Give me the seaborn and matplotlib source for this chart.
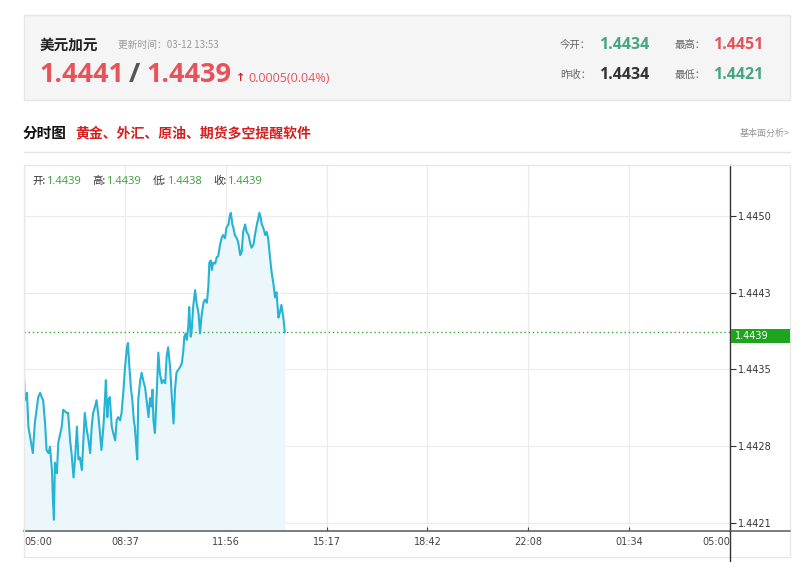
import numpy as np
import pandas as pd
import matplotlib
matplotlib.use("Agg")
import matplotlib.pyplot as plt
from matplotlib.patches import Rectangle
from matplotlib.lines import Line2D
import seaborn as sns

# ──────────────────────────────────────────────────────────────────────────────
# data (minutes since 05:00 open, USD/CAD price)
minutes = [0, 2, 6, 9, 16, 18, 22, 29, 33, 36, 39, 43, 46, 50, 53, 57, 59, 61, 63, 67,
           70, 77, 80, 87, 90, 94, 97, 101, 104, 108, 111, 114, 118, 121, 124, 128, 131, 135, 138, 141,
           145, 148, 152, 155, 158, 162, 165, 167, 170, 172, 175, 179, 182, 186, 189, 192, 196, 199, 203, 206,
           210, 212, 214, 218, 221, 224, 226, 228, 231, 233, 237, 240, 243, 247, 250, 254, 257, 260, 262, 264,
           267, 271, 274, 277, 281, 284, 288, 291, 294, 298, 301, 305, 308, 311, 315, 318, 322, 325, 327, 330,
           332, 335, 337, 340, 342, 345, 349, 352, 356, 359, 362, 366, 369, 373, 376, 378, 381, 383, 386, 390,
           393, 396, 400, 403, 406, 410, 413, 417, 420, 422, 425, 427, 430, 434, 437, 441, 444, 447, 451, 454,
           458, 461, 464, 468, 471, 475, 478, 480, 483, 485, 488, 492, 495, 498, 502, 505, 509, 512, 515, 519,
           522, 525, 529, 532]
prices = [1.44348, 1.44326, 1.44333, 1.44301, 1.44282, 1.44276, 1.44304, 1.44329, 1.44333, 1.44329,
          1.44326, 1.44304, 1.44279, 1.44276, 1.44282, 1.44260, 1.44232, 1.44213, 1.44267, 1.44257,
          1.44286, 1.44301, 1.44317, 1.44314, 1.44314, 1.44288, 1.44276, 1.44253, 1.44270, 1.44301,
          1.44270, 1.44272, 1.44260, 1.44288, 1.44314, 1.44298, 1.44290, 1.44276, 1.44301, 1.44314,
          1.44320, 1.44326, 1.44310, 1.44295, 1.44279, 1.44301, 1.44326, 1.44345, 1.44310, 1.44326,
          1.44329, 1.44301, 1.44295, 1.44288, 1.44307, 1.44310, 1.44307, 1.44314, 1.44336, 1.44357,
          1.44376, 1.44380, 1.44364, 1.44338, 1.44326, 1.44307, 1.44301, 1.44288, 1.44270, 1.44326,
          1.44345, 1.44352, 1.44345, 1.44338, 1.44326, 1.44310, 1.44328, 1.44320, 1.44336, 1.44307,
          1.44295, 1.44336, 1.44371, 1.44352, 1.44342, 1.44345, 1.44342, 1.44367, 1.44376, 1.44357,
          1.44333, 1.44304, 1.44336, 1.44352, 1.44355, 1.44357, 1.44361, 1.44373, 1.44386, 1.44389,
          1.44383, 1.44395, 1.44414, 1.44386, 1.44392, 1.44414, 1.44430, 1.44418, 1.44408, 1.44389,
          1.44405, 1.44418, 1.44421, 1.44418, 1.44433, 1.44456, 1.44458, 1.44449, 1.44456, 1.44455,
          1.44461, 1.44462, 1.44473, 1.44479, 1.44482, 1.44479, 1.44489, 1.44492, 1.44501, 1.44503,
          1.44492, 1.44489, 1.44482, 1.44479, 1.44475, 1.44463, 1.44466, 1.44485, 1.44492, 1.44485,
          1.44482, 1.44475, 1.44470, 1.44473, 1.44482, 1.44492, 1.44498, 1.44503, 1.44498, 1.44492,
          1.44489, 1.44482, 1.44485, 1.44479, 1.44460, 1.44447, 1.44435, 1.44423, 1.44428, 1.44404,
          1.44409, 1.44416, 1.44404, 1.44390]

time_labels  = ['05:00', '08:37', '11:56', '15:17', '18:42', '22:08', '01:34', '05:00']
price_ticks  = [1.4421, 1.442825, 1.44355, 1.444275, 1.4450]
price_labels = ['1.4421', '1.4428', '1.4435', '1.4443', '1.4450']
last_price   = 1.4439

# ──────────────────────────────────────────────────────────────────────────────
sns.set_theme(style="white")
plt.rcParams['font.family'] = ['Noto Sans CJK SC', 'DejaVu Sans']

W, H = 800, 569
fig = plt.figure(figsize=(W / 100, H / 100), dpi=100)
fig.patch.set_facecolor('white')
NUM = ['Open Sans', 'DejaVu Sans']


def fx(x):
    return x / W


def fy(y):
    return 1 - y / H


def ptext(x, y, s, **kw):
    kw.setdefault('va', 'center')
    return fig.text(fx(x), fy(y), s, **kw)


# header panel
fig.patches.append(Rectangle((fx(24), fy(100)), fx(790) - fx(24), fy(15) - fy(100),
                             transform=fig.transFigure, facecolor='#f5f5f5',
                             edgecolor='#e6e6e6', lw=1))

RED, GREEN, DARK, GREY = '#e5535b', '#45a682', '#333333', '#999999'
ptext(40, 45, '美元加元', fontsize=10.5, fontweight='bold', color='#222222')
ptext(118, 45, '更新时间：03-12 13:53', fontsize=7, color=GREY)
ptext(39, 75, '1.4441', fontsize=19.5, fontweight='bold', color=RED, family=NUM)
ptext(129, 75, '/', fontsize=19.5, fontweight='bold', color='#555555', family=NUM)
ptext(146, 75, '1.4439', fontsize=19.5, fontweight='bold', color=RED, family=NUM)
ptext(236, 78, '↑', fontsize=8, fontweight='bold', color='#d42020', family=['DejaVu Sans'])
ptext(248, 78, '0.0005(0.04%)', fontsize=9, color=RED, family=NUM)

ptext(560, 45, '今开：', fontsize=7.5, color='#666666')
ptext(599, 45, '1.4434', fontsize=11.5, fontweight='bold', color=GREEN, family=NUM)
ptext(675, 45, '最高：', fontsize=7.5, color='#666666')
ptext(713, 45, '1.4451', fontsize=11.5, fontweight='bold', color=RED, family=NUM)
ptext(560, 75, '昨收：', fontsize=7.5, color='#666666')
ptext(599, 75, '1.4434', fontsize=11.5, fontweight='bold', color=DARK, family=NUM)
ptext(675, 75, '最低：', fontsize=7.5, color='#666666')
ptext(713, 75, '1.4421', fontsize=11.5, fontweight='bold', color=GREEN, family=NUM)

# section title
ptext(23, 133, '分时图', fontsize=10.5, fontweight='bold', color='#111111')
ptext(75, 133, '黄金、外汇、原油、期货多空提醒软件', fontsize=10, fontweight='bold', color='#d42020')
ptext(790, 133, '基本面分析>', fontsize=6.5, color=GREY, ha='right')
fig.lines.append(Line2D([fx(24), fx(790)], [fy(152), fy(152)], transform=fig.transFigure,
                        color='#e3e3e3', lw=1))

# chart frame
fig.patches.append(Rectangle((fx(24), fy(557)), fx(790) - fx(24), fy(165) - fy(557),
                             transform=fig.transFigure, facecolor='none',
                             edgecolor='#e8e8e8', lw=1))

# ──────────────────────────────────────────────────────────────────────────────
ax = fig.add_axes([fx(24), fy(531), fx(730) - fx(24), fy(165) - fy(531)])
ax.set_facecolor('white')

df = pd.DataFrame({'minute': minutes, 'price': prices})
x_max = 1440
y_lo = 1.4450 - 315 * 0.0029 / 307
y_hi = 1.4450 + 51 * 0.0029 / 307

ax.fill_between(df['minute'], df['price'], y_lo, color='#ebf7fb', lw=0, zorder=1)
sns.lineplot(data=df, x='minute', y='price', ax=ax, color='#27b3d3', lw=1.5, zorder=3)
ax.axhline(last_price, color='#3aa83a', lw=1, ls=(0, (1, 2)), zorder=2)

ax.set_xlim(0, x_max)
ax.set_ylim(y_lo, y_hi)
xt = [i * x_max / 7 for i in range(len(time_labels))]
ax.set_xticks(xt)
ax.set_xticklabels(time_labels)
for lab, ha in zip(ax.get_xticklabels(), ['left'] + ['center'] * 6 + ['right']):
    lab.set_ha(ha)
ax.set_yticks(price_ticks)
ax.set_yticklabels(price_labels)
ax.yaxis.tick_right()
ax.tick_params(axis='y', which='both', right=True, length=4, width=0.8, colors='#333333',
               labelsize=7, pad=2, direction='out')
ax.tick_params(axis='x', bottom=True, length=3, width=0.8, colors='#444444',
               labelsize=7, pad=4, direction='in')
for lab in ax.get_xticklabels() + ax.get_yticklabels():
    lab.set_family(['DejaVu Sans'])
ax.grid(True, color='#ececec', lw=0.9)
ax.set_xlabel('')
ax.set_ylabel('')
for side in ['left', 'top']:
    ax.spines[side].set_visible(False)
ax.spines['bottom'].set_color('#666666')
ax.spines['bottom'].set_linewidth(1.2)
ax.spines['right'].set_color('#333333')
ax.spines['right'].set_linewidth(1)

# axis extensions beyond the plot area
fig.lines.append(Line2D([fx(730), fx(790)], [fy(531), fy(531)], transform=fig.transFigure,
                        color='#666666', lw=1.2))
fig.lines.append(Line2D([fx(730), fx(730)], [fy(531), fy(561)], transform=fig.transFigure,
                        color='#333333', lw=1))

# last price tag
fig.patches.append(Rectangle((fx(731), fy(343)), fx(790) - fx(731), fy(329) - fy(343),
                             transform=fig.transFigure, facecolor='#1ea51e', edgecolor='none'))
ptext(735, 336, '1.4439', fontsize=7, color='white', family=['DejaVu Sans'])

# OHLC info row
info = [('开:', '1.4439'), ('高:', '1.4439'), ('低:', '1.4438'), ('收:', '1.4439')]
x0 = 32
for lab, val in info:
    ptext(x0, 181, lab, fontsize=7.5, color='#333333')
    ptext(x0 + 14, 181, val, fontsize=8, color='#3a9f3a', family=NUM)
    x0 += 60.5

fig.savefig('out.png', dpi=100)
